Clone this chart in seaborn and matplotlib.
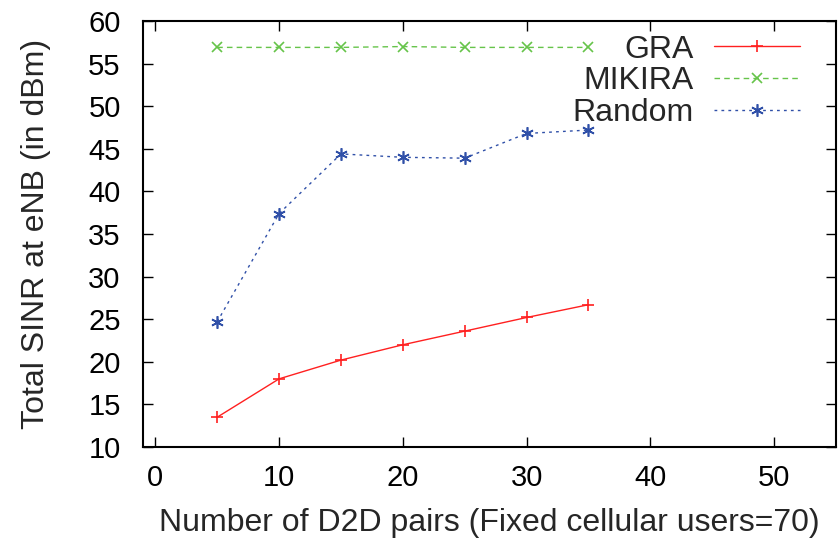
import matplotlib
matplotlib.use("Agg")
import matplotlib.pyplot as plt
import seaborn as sns
import pandas as pd

d2d_pairs = [5, 10, 15, 20, 25, 30, 35]
gra = [13.5, 18.0, 20.2, 22.0, 23.6, 25.2, 26.7]
mikira = [56.9, 56.9, 56.9, 57.0, 56.9, 56.9, 56.9]
random_ = [24.7, 37.4, 44.4, 44.0, 43.9, 46.8, 47.2]
x_ticks = [0, 10, 20, 30, 40, 50]
y_ticks = [10, 15, 20, 25, 30, 35, 40, 45, 50, 55, 60]

sns.set_style("ticks")
plt.rcParams['font.family'] = ['Liberation Sans', 'DejaVu Sans']

df = pd.DataFrame({"x": d2d_pairs, "GRA": gra, "MIKIRA": mikira, "Random": random_})

fig = plt.figure(figsize=(8.39, 5.48), dpi=100)
ax = fig.add_axes([0.1704, 0.1843, 0.8260, 0.7774])

c_gra, c_mik, c_rnd = "#ff2020", "#66c44a", "#3050a8"
sns.lineplot(data=df, x="x", y="GRA", ax=ax, color=c_gra, lw=1.0,
             marker="+", markersize=9, markeredgewidth=1.2, markeredgecolor=c_gra,
             label="GRA")
sns.lineplot(data=df, x="x", y="MIKIRA", ax=ax, color=c_mik, lw=1.0,
             linestyle=(0, (4, 3)), marker="x", markersize=7, markeredgewidth=1.2,
             markeredgecolor=c_mik, label="MIKIRA")
sns.lineplot(data=df, x="x", y="Random", ax=ax, color=c_rnd, lw=1.0,
             linestyle=(0, (2, 3)), marker=(6, 2, 0), markersize=9, markeredgewidth=1.2,
             markeredgecolor=c_rnd, label="Random")

ax.set_xlim(-1, 55)
ax.set_ylim(10, 60)
ax.set_xticks(x_ticks)
ax.set_yticks(y_ticks)
ax.tick_params(direction="in", length=7, width=1, top=True, right=True,
               labelsize=21, colors="black")
ax.tick_params(axis="y", pad=16)
ax.tick_params(axis="x", pad=12)
for s in ax.spines.values():
    s.set_linewidth(1.5)
    s.set_color("black")

ax.set_xlabel("Number of D2D pairs (Fixed cellular users=70)", fontsize=23, labelpad=12)
ax.set_ylabel("Total SINR at eNB (in dBm)", fontsize=23, labelpad=27)

leg = ax.legend(loc="upper right", frameon=False, markerfirst=False, fontsize=23,
                handlelength=2.7, handletextpad=0.65, labelspacing=0.05,
                borderaxespad=0.0, bbox_to_anchor=(0.967, 0.998))
for t in leg.get_texts():
    t.set_ha("right")

fig.savefig("out.png", dpi=100)
